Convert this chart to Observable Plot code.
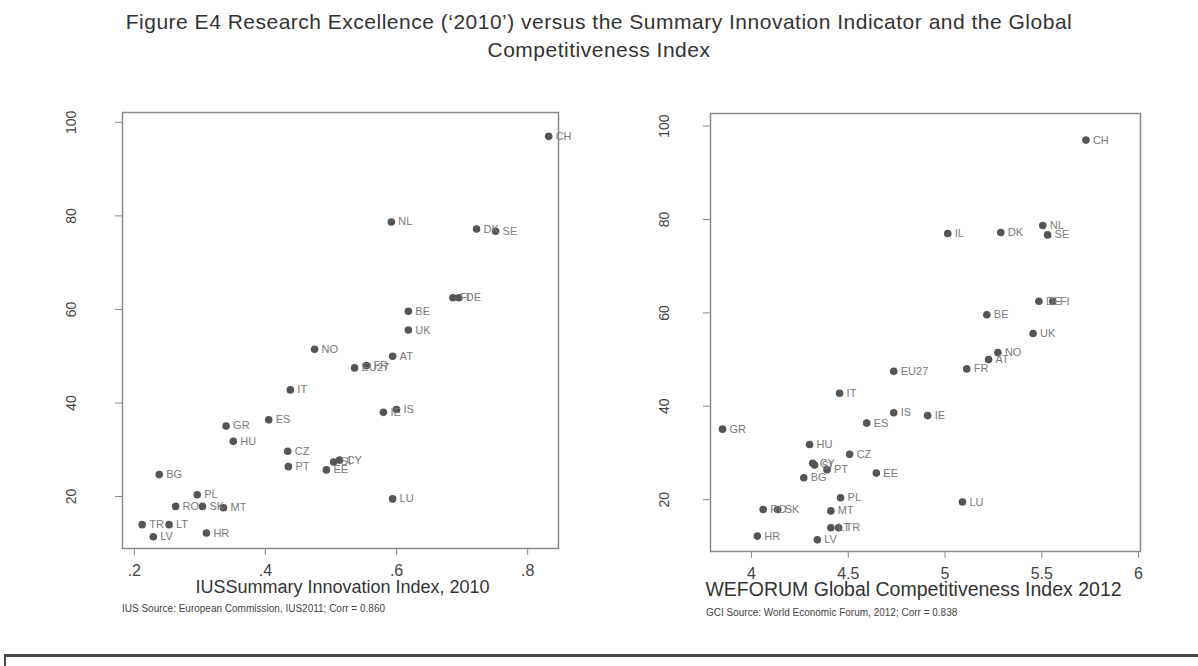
<!DOCTYPE html>
<html>
<head>
<meta charset="utf-8">
<script src="https://cdn.jsdelivr.net/npm/d3@7"></script>
<script src="https://cdn.jsdelivr.net/npm/@observablehq/plot@0.6"></script>
<style>
  body { margin: 0; background: #fff; width: 1198px; height: 666px; position: relative; overflow: hidden;
         font-family: "Liberation Sans", Arial, sans-serif; }
  #title { position: absolute; top: 8px; left: 0; width: 1198px; text-align: center; font-size: 21px;
           line-height: 28px; color: #333; letter-spacing: 0.5px; }
  .panel { position: absolute; top: 90px; }
  .panel svg { overflow: visible; }
  .cap { position: absolute; font-size: 10px; color: #444; white-space: nowrap; }
  #rule { position: absolute; left: 4px; top: 654px; width: 1194px; height: 20px;
          border-top: 3px solid #4a4a4a; border-left: 2px solid #4a4a4a; }
</style>
</head>
<body>
<div id="title">Figure E4 Research Excellence (‘2010’) versus the Summary Innovation Indicator and the Global<br>Competitiveness Index</div>
<div id="left" class="panel" style="left:0px"></div>
<div id="right" class="panel" style="left:600px"></div>
<div class="cap" style="left:122px; top:603px">IUS Source: European Commission, IUS2011; Corr = 0.860</div>
<div class="cap" style="left:706px; top:607px">GCI Source: World Economic Forum, 2012; Corr = 0.838</div>
<div id="rule"></div>
<script>
// Countries (IL is not covered by the IUS)
const countries = ["CH","IL","NL","DK","SE","FI","DE","BE","UK","NO","AT","FR","EU27","IT","IS","IE","ES","GR","HU","CZ","SI","CY","PT","EE","BG","PL","LU","MT","SK","RO","LT","TR","HR","LV"];
// Research Excellence composite ('2010')
const excellence = [97.0, 77.0, 78.7, 77.2, 76.7, 62.5, 62.5, 59.6, 55.6, 51.5, 50.0, 48.0, 47.5, 42.8, 38.6, 38.0, 36.4, 35.1, 31.8, 29.7, 27.4, 27.8, 26.4, 25.7, 24.7, 20.4, 19.5, 17.6, 17.9, 17.9, 14.0, 14.0, 12.2, 11.4];
// IUS Summary Innovation Index, 2010
const ius = [0.832, null, 0.592, 0.722, 0.751, 0.686, 0.695, 0.618, 0.618, 0.475, 0.594, 0.554, 0.536, 0.438, 0.600, 0.580, 0.405, 0.340, 0.351, 0.434, 0.504, 0.513, 0.435, 0.493, 0.238, 0.296, 0.594, 0.336, 0.304, 0.263, 0.253, 0.212, 0.310, 0.229];
// WEFORUM Global Competitiveness Index 2012
const gci = [5.728, 5.014, 5.505, 5.288, 5.53, 5.557, 5.485, 5.216, 5.455, 5.273, 5.225, 5.112, 4.735, 4.455, 4.735, 4.91, 4.595, 3.85, 4.30, 4.507, 4.326, 4.316, 4.39, 4.645, 4.27, 4.46, 5.09, 4.41, 4.135, 4.06, 4.41, 4.45, 4.03, 4.34];

const yTicks = [20, 40, 60, 80, 100];
const iusTicks = [0.2, 0.4, 0.6, 0.8];
const iusTickLabels = [".2", ".4", ".6", ".8"];
const gciTicks = [4, 4.5, 5, 5.5, 6];
const gciTickLabels = ["4", "4.5", "5", "5.5", "6"];

function scatter({xs, xDomain, yDomain, ticks, tickLabels, xTitle, titleSize, titleDx, width, height, margins, yPad}) {
  const rows = countries.map((c, i) => ({c, x: xs[i], y: excellence[i]})).filter(d => d.x != null);
  const labelOf = new Map(ticks.map((t, i) => [t, tickLabels[i]]));
  return Plot.plot({
    width, height, ...margins,
    style: {fontFamily: '"Liberation Sans", Arial, sans-serif', color: "#444", background: "transparent", overflow: "visible"},
    x: {domain: xDomain},
    y: {domain: yDomain},
    marks: [
      Plot.frame({stroke: "#8a8a8a", strokeWidth: 1.5}),
      Plot.axisX({ticks, tickFormat: d => labelOf.get(d), tickSize: 7, tickPadding: 9, fontSize: 16,
                  stroke: "#8a8a8a", label: null}),
      Plot.axisY({ticks: yTicks, tickSize: 7, tickRotate: -90, tickPadding: yPad, fontSize: 14,
                  stroke: "#8a8a8a", label: null}),
      Plot.text([xTitle], {frameAnchor: "bottom", dy: 44, dx: titleDx, fontSize: titleSize, fill: "#333"}),
      Plot.dot(rows, {x: "x", y: "y", r: 3.8, fill: "#555", stroke: "none"}),
      Plot.text(rows, {x: "x", y: "y", text: "c", dx: 7, textAnchor: "start", fontSize: 11, fill: "#7a7a7a"})
    ]
  });
}

document.getElementById("left").append(scatter({
  xs: ius, xDomain: [0.182, 0.847], yDomain: [8.9, 102.1],
  ticks: iusTicks, tickLabels: iusTickLabels,
  xTitle: "IUSSummary Innovation Index, 2010", titleSize: 18, titleDx: 2,
  width: 580, height: 520,
  margins: {marginLeft: 122, marginRight: 22, marginTop: 22, marginBottom: 62},
  yPad: 40
}));

document.getElementById("right").append(scatter({
  xs: gci, xDomain: [3.788, 6.01], yDomain: [8.9, 102.7],
  ticks: gciTicks, tickLabels: gciTickLabels,
  xTitle: "WEFORUM Global Competitiveness Index 2012", titleSize: 19.5, titleDx: -12,
  width: 560, height: 520,
  margins: {marginLeft: 110, marginRight: 20, marginTop: 23, marginBottom: 59},
  yPad: 35
}));
</script>
</body>
</html>
